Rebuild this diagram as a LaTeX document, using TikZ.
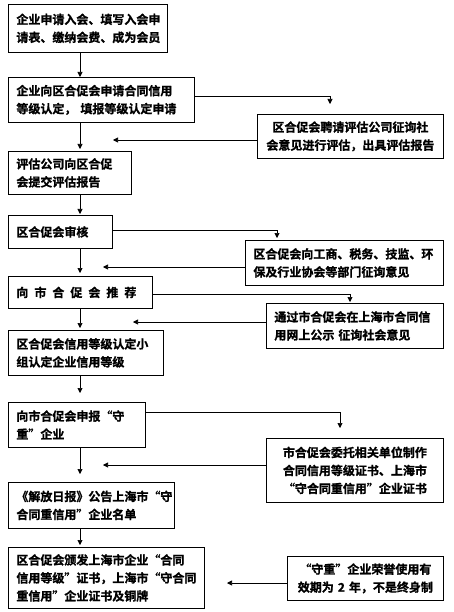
\documentclass[tikz,border=0pt]{standalone}
\usepackage{fontspec}
\newfontfamily\cjk{Noto Sans CJK SC}[BoldFont={Noto Sans CJK SC Bold},
                                     BoldFeatures={FakeBold=1.2}]
\usetikzlibrary{arrows.meta}

\begin{document}
\begin{tikzpicture}[
  x=1pt, y=-1pt,
  font=\cjk\bfseries\fontsize{12}{18}\selectfont,
  >={Triangle[width=5pt,length=5pt]},
  box/.style  ={draw,line width=0.8pt,anchor=north west,
                inner xsep=8pt,inner ysep=0pt,align=left},
  side/.style ={box,align=center},
  arrow/.style={->,line width=0.6pt},
]
\useasboundingbox (0,0) rectangle (453,612);

%% ===== Main column ===========================================================
\node[box,text width=143pt,minimum height=48pt] (enter) at (8,4)
      {企业申请入会、填写入会申\\请表、缴纳会费、成为会员};
\node[box,text width=170pt,minimum height=45pt] (apply) at (8,77)
      {企业向区合促会申请合同信用\\等级认定， 填报等级认定申请};
\node[box,text width=107pt,minimum height=43pt] (report) at (8,151)
      {评估公司向区合促\\会提交评估报告};
\node[box,text width=88pt,minimum height=33pt] (review) at (8,215)
      {区合促会审核};
\node[box,text width=128pt,minimum height=32pt] (recommend) at (8,276)
      {向\enspace 市\enspace 合\enspace 促\enspace 会\enspace 推\enspace 荐};
\node[box,text width=139pt,minimum height=45pt] (rating) at (8,330)
      {区合促会信用等级认定小\\组认定企业信用等级};
\node[box,text width=121pt,minimum height=45pt] (declare) at (8,402)
      {向市合促会申报“守\\重”企业};
\node[box,text width=150pt,minimum height=46pt] (publish) at (8,482)
      {《解放日报》公告上海市“守\\合同重信用”企业名单};
\node[box,text width=180pt,minimum height=61pt] (award) at (8,547)
      {区合促会颁发上海市企业“合同\\信用等级”证书，上海市“守合同\\重信用”企业证书及铜牌};

%% ===== Side boxes ============================================================
\node[side,text width=170pt,minimum height=44pt] (hire) at (257,114)
      {区合促会聘请评估公司征询社\\会意见进行评估，出具评估报告};
\node[box,text width=182pt,minimum height=45pt] (consult) at (245,240)
      {区合促会向工商、税务、技监、环\\保及行业协会等部门征询意见};
\node[box,text width=161pt,minimum height=45pt] (publicize) at (266,303)
      {通过市合促会在上海市合同信\\用网上公示 征询社会意见};
\node[side,text width=161pt,minimum height=64pt] (certify) at (266,438)
      {市合促会委托相关单位制作\\合同信用等级证书、上海市\\“守合同重信用”企业证书};
\node[side,text width=140pt,minimum height=44pt] (validity) at (287,556)
      {“守重”企业荣誉使用有\\效期为 2 年，不是终身制};

%% ===== Free arrow ends =======================================================
\coordinate (spine) at (80,0);
\coordinate (toHire)      at (330,104);
\coordinate (fromHire)    at (113,140);
\coordinate (toConsult)   at (277,238);
\coordinate (fromConsult) at (103,267);
\coordinate (toPublic)    at (350,302);
\coordinate (fromPublic)  at (133,322);
\coordinate (toCertify)   at (340,428);
\coordinate (fromCertify) at (103,465);
\coordinate (fromValid)   at (227,583);

%% ===== Arrows down the main column ===========================================
\foreach \a/\b/\g in {enter/apply/0, apply/report/2, report/review/1,
                      review/recommend/3, recommend/rating/2, rating/declare/9,
                      declare/publish/8, publish/award/2} {
  \draw[arrow,shorten >=\g] (\a.south -| spine) -- (\b.north -| spine);
}

%% ===== Arrows out to the side and back =======================================
\draw[arrow] ([yshift=3.5pt]apply.east) -| (toHire);
\draw[arrow] (hire.west |- fromHire) -- (fromHire);
\draw[arrow] ([yshift=1.5pt]review.east) -| (toConsult);
\draw[arrow] (consult.west |- fromConsult) -- (fromConsult);
\draw[arrow] ([yshift=-2pt]recommend.east) -| (toPublic);
\draw[arrow] (publicize.west |- fromPublic) -- (fromPublic);
\draw[arrow] ([yshift=12.5pt]declare.east) -| (toCertify);
\draw[arrow] (certify.west |- fromCertify) -- (fromCertify);
\draw[arrow] (validity.west |- fromValid) -- (fromValid);

\end{tikzpicture}
\end{document}
